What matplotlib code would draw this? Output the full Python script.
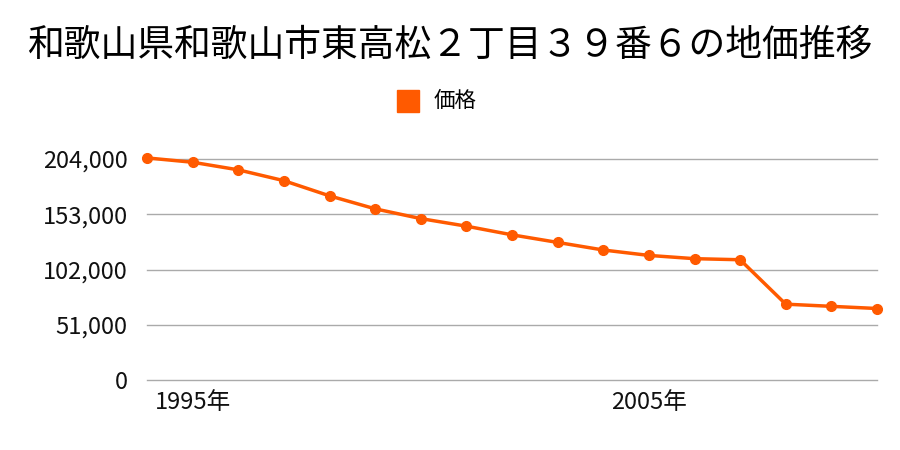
import matplotlib
matplotlib.use('Agg')
import matplotlib.pyplot as plt
import matplotlib.transforms as mtransforms
from matplotlib.ticker import FixedLocator, FuncFormatter

plt.rcParams['font.family'] = ['Noto Sans CJK JP', 'DejaVu Sans']

# === DATA ===
years = list(range(1995, 2012))
prices = [205000, 201000, 194000, 184000, 170000, 158000, 149000, 142000,
          134000, 127000, 120000, 115000, 112000, 111000, 70000, 68000, 66000]
y_ticks = [0, 51000, 102000, 153000, 204000]
x_ticks = [1995, 2005]

title = '和歌山県和歌山市東高松２丁目３９番６の地価推移'
series_name = '価格'
line_color = '#ff5a00'

fig = plt.figure(figsize=(9, 4.5), dpi=100)
ax = fig.add_axes([147 / 900, 1 - 380 / 450, 730 / 900, 221 / 450])

ax.plot(years, prices, color=line_color, linewidth=2.5, marker='o',
        markersize=7, clip_on=False, zorder=3, label=series_name)

ax.set_xlim(1995, 2011)
ax.set_ylim(0, 204000)
ax.yaxis.set_major_locator(FixedLocator(y_ticks))
ax.yaxis.set_major_formatter(FuncFormatter(lambda v, p: f'{int(v):,}'))
ax.xaxis.set_major_locator(FixedLocator(x_ticks))
ax.xaxis.set_major_formatter(FuncFormatter(lambda v, p: f'{int(v)}年'))

# horizontal grid lines (incl. the baseline at 0)
for t in y_ticks:
    ax.axhline(t, color='#aaaaaa', linewidth=1, zorder=1, clip_on=False)
for s in ax.spines.values():
    s.set_visible(False)
ax.tick_params(axis='both', length=0, labelsize=17, labelcolor='#111111')
ax.tick_params(axis='y', pad=14)
ax.tick_params(axis='x', pad=8)
shift = mtransforms.ScaledTranslation(8 / 100, 0, fig.dpi_scale_trans)
for lbl in ax.get_xticklabels():
    lbl.set_horizontalalignment('left')
    lbl.set_transform(lbl.get_transform() + shift)

fig.text(0.5, 1 - 45 / 450, title, ha='center', va='center', fontsize=26.5)

# legend
fig.patches.append(plt.Rectangle((397 / 900, 1 - 112 / 450), 22 / 900, 22 / 450,
                                 transform=fig.transFigure, color=line_color))
fig.text(434 / 900, 1 - 101 / 450, series_name, ha='left', va='center', fontsize=15.5)

fig.savefig('out.png', dpi=100)
